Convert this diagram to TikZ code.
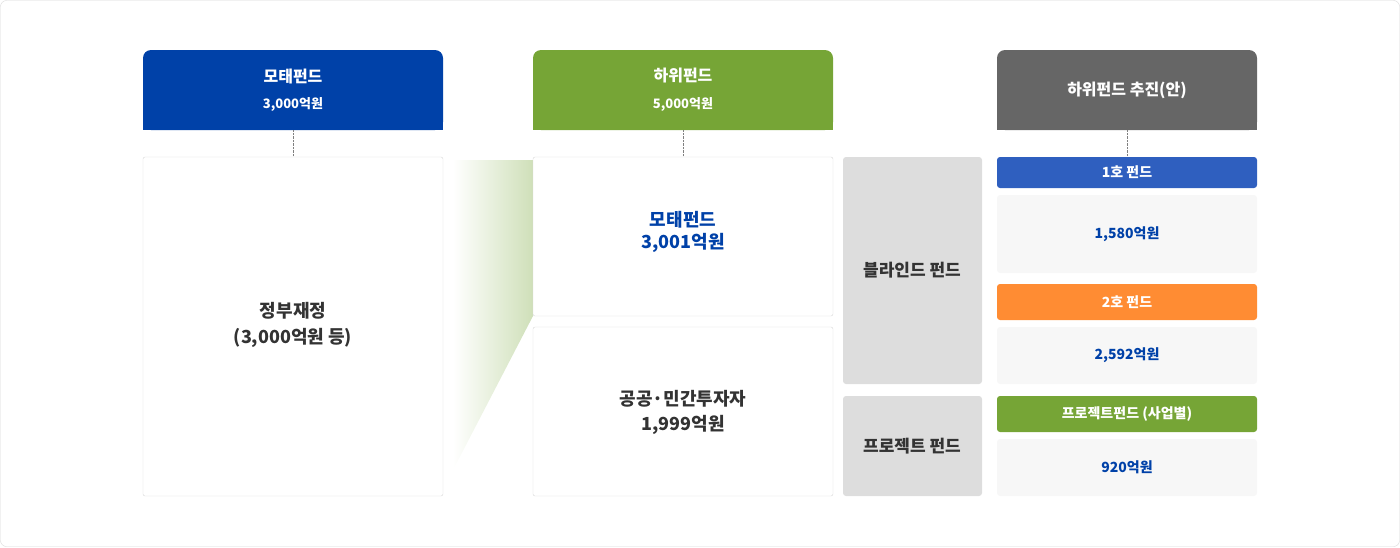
\documentclass[tikz,border=0pt]{standalone}
\usepackage{fontspec}
\setmainfont{Noto Sans CJK KR}
\definecolor{mblue}{HTML}{0041A8}
\definecolor{mgreen}{HTML}{76A536}
\definecolor{mgray}{HTML}{666666}
\definecolor{bar1}{HTML}{2F5FBF}
\definecolor{bar2}{HTML}{FF8C33}
\definecolor{txt}{HTML}{333333}
\definecolor{lgray}{HTML}{DDDDDD}
\definecolor{vlgray}{HTML}{F7F7F7}
\definecolor{bord}{HTML}{D8D8D8}
\begin{document}
\begin{tikzpicture}[x=1pt,y=-1pt,
  hdr/.style={rounded corners=0pt},
  wbox/.style={draw=bord,fill=white,rounded corners=2pt},
  ht/.style={text=white,font=\bfseries\fontsize{16}{18}\selectfont},
  hs/.style={text=white,font=\bfseries\fontsize{13}{15}\selectfont},
  bt/.style={text=txt,font=\bfseries\fontsize{18}{22}\selectfont,align=center},
  bl/.style={text=mblue,font=\bfseries\fontsize{18}{22}\selectfont,align=center},
  rt/.style={text=mblue,font=\bfseries\fontsize{14}{16}\selectfont},
  bart/.style={text=white,font=\bfseries\fontsize{14}{16}\selectfont},
  gt/.style={text=txt,font=\bfseries\fontsize{17}{20}\selectfont},
  dot/.style={draw=gray,densely dotted}]
\useasboundingbox (0,0) rectangle (1400,547);
\draw[bord,rounded corners=6pt] (0.5,0.5) rectangle (1399.5,546.5);
% gradient wedge
\shade[left color=white,right color=mgreen!35] (453,160) -- (533,160) -- (533,316) -- (453,470) -- cycle;
% headers
\fill[mblue,rounded corners=8pt] (143,130) -- (143,50) -- (443,50) -- (443,130) -- cycle;
\fill[mblue] (143,110) rectangle (443,130);
\fill[mgreen,rounded corners=8pt] (533,130) -- (533,50) -- (833,50) -- (833,130) -- cycle;
\fill[mgreen] (533,110) rectangle (833,130);
\fill[mgray,rounded corners=8pt] (997,130) -- (997,50) -- (1257,50) -- (1257,130) -- cycle;
\fill[mgray] (997,110) rectangle (1257,130);
\node[ht] (h1) at (293,76) {모태펀드};
\node[hs] (h1s) at (293,104) {3,000억원};
\node[ht] (h2) at (683,76) {하위펀드};
\node[hs] (h2s) at (683,104) {5,000억원};
\node[ht] (h3) at (1127,90) {하위펀드 추진(안)};
\coordinate (d1a) at (293,130); \coordinate (d1b) at (293,157);
\coordinate (d2a) at (683,130); \coordinate (d2b) at (683,157);
\coordinate (d3a) at (1127,130); \coordinate (d3b) at (1127,157);
\draw[dot] (d1a)--(d1b); \draw[dot] (d2a)--(d2b); \draw[dot] (d3a)--(d3b);
% boxes
\draw[wbox] (143,157) rectangle (443,496);
\node[bt] (gov) at (293,325) {정부재정\\[4pt](3,000억원 등)};
\draw[wbox] (533,157) rectangle (833,316);
\node[bl] (mf) at (683,232) {모태펀드\\3,001억원};
\draw[wbox] (533,327) rectangle (833,496);
\node[bt] (pp) at (683,412) {공공·민간투자자\\[3pt]1,999억원};
\fill[lgray,rounded corners=3pt] (843,157) rectangle (982,384);
\node[gt] (bf) at (912,270) {블라인드 펀드};
\fill[lgray,rounded corners=3pt] (843,396) rectangle (982,496);
\node[gt] (pf) at (912,446) {프로젝트 펀드};
% right column
\fill[bar1,rounded corners=3pt] (997,157) rectangle (1257,188);
\node[bart] (b1) at (1127,172) {1호 펀드};
\fill[vlgray,rounded corners=3pt] (997,195) rectangle (1257,273);
\node[rt] (v1) at (1127,234) {1,580억원};
\fill[bar2,rounded corners=3pt] (997,284) rectangle (1257,320);
\node[bart] (b2) at (1127,302) {2호 펀드};
\fill[vlgray,rounded corners=3pt] (997,327) rectangle (1257,384);
\node[rt] (v2) at (1127,355) {2,592억원};
\fill[mgreen,rounded corners=3pt] (997,396) rectangle (1257,432);
\node[bart] (b3) at (1127,414) {프로젝트펀드 (사업별)};
\fill[vlgray,rounded corners=3pt] (997,439) rectangle (1257,496);
\node[rt] (v3) at (1127,467) {920억원};
\end{tikzpicture}
\end{document}
